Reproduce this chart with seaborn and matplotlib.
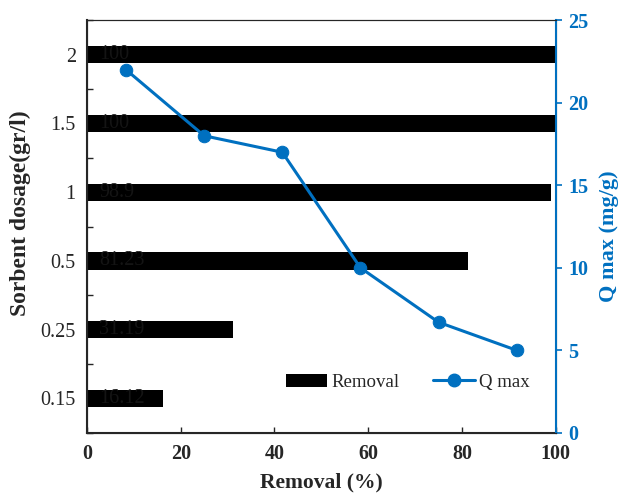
import matplotlib as mpl
mpl.use('Agg')
import matplotlib.pyplot as plt
from matplotlib.patches import Patch
from matplotlib.lines import Line2D
import seaborn as sns

# data
dosage = ['2', '1.5', '1', '0.5', '0.25', '0.15']
removal = [100, 100, 98.9, 81.23, 31.19, 16.12]
removal_labels = ['100', '100', '98.9', '81.23', '31.19', '16.12']
dosage_q = ['0.15', '0.25', '0.5', '1', '1.5', '2']
qmax = [22, 18, 17, 10, 6.7, 5]

blue = '#0070C0'

sns.set_style('ticks')
plt.rcParams['font.family'] = ['Liberation Serif', 'DejaVu Serif']
plt.rcParams['font.size'] = 14.5

fig, ax = plt.subplots(figsize=(6.21, 4.93), dpi=100)
fig.subplots_adjust(left=0.140, right=0.895, top=0.959, bottom=0.122)

sns.barplot(x=removal, y=dosage, orient='h', color='black', width=0.25,
            saturation=1, ax=ax, edgecolor='none')
for i, lab in enumerate(removal_labels):
    ax.annotate(lab, (0, i), xytext=(9, 0), textcoords='offset points',
                va='center', ha='left', color='#141414', fontsize=14.5)

ax.set_xlim(0, 100)
ax.set_xticks(range(0, 101, 20))
ax.set_ylim(5.5, -0.5)
ax.set_yticks(range(6))
ax.set_yticks([i - 0.5 for i in range(7)], minor=True)
ax.tick_params(axis='y', which='major', length=0, pad=8)
ax.tick_params(axis='y', which='minor', direction='in', length=4, width=1)
ax.tick_params(axis='x', direction='in', length=4, width=1, pad=8)
for t in ax.get_xticklabels():
    t.set_fontweight('bold')
ax.set_xlabel('Removal (%)', fontweight='bold', fontsize=15.5, labelpad=6)
ax.set_ylabel('Sorbent dosage(gr/l)', fontweight='bold', fontsize=17)
ax.yaxis.set_label_coords(-0.12, 0.533)
for s in ['left', 'bottom']:
    ax.spines[s].set_linewidth(1.5)
ax.spines['top'].set_linewidth(0.8)

ax2 = ax.twinx()
ax2.set_ylim(0, 25)
ax2.set_yticks(range(0, 26, 5))
ax2.tick_params(axis='y', colors=blue, direction='out', length=4, width=1.2, pad=5)
for t in ax2.get_yticklabels():
    t.set_fontweight('bold')
ax2.spines['right'].set_color(blue)
ax2.spines['right'].set_linewidth(1.5)
ax2.set_ylabel('Q max (mg/g)', color=blue, fontweight='bold', fontsize=16)
ax2.yaxis.set_label_coords(1.092, 0.477)

ax3 = ax2.twiny()
sns.lineplot(x=dosage_q, y=qmax, ax=ax3, color=blue, marker='o',
             markersize=9, markeredgecolor=blue, linewidth=2.2, sort=False)
ax3.set_xlim(-0.5, 5.5)
ax3.set_ylim(0, 25)
ax3.xaxis.set_visible(False)
for s in ax3.spines.values():
    s.set_visible(False)

handles = [Patch(facecolor='black', edgecolor='none'),
           Line2D([], [], color=blue, marker='o', markersize=9, linewidth=2.2)]
ax3.legend(handles, ['Removal', 'Q max'], ncol=2, frameon=False,
           loc='lower right', bbox_to_anchor=(0.98, 0.06), fontsize=13.6,
           handlelength=2.2, columnspacing=1.8, handletextpad=0.2)

plt.savefig('out.png', dpi=100)
